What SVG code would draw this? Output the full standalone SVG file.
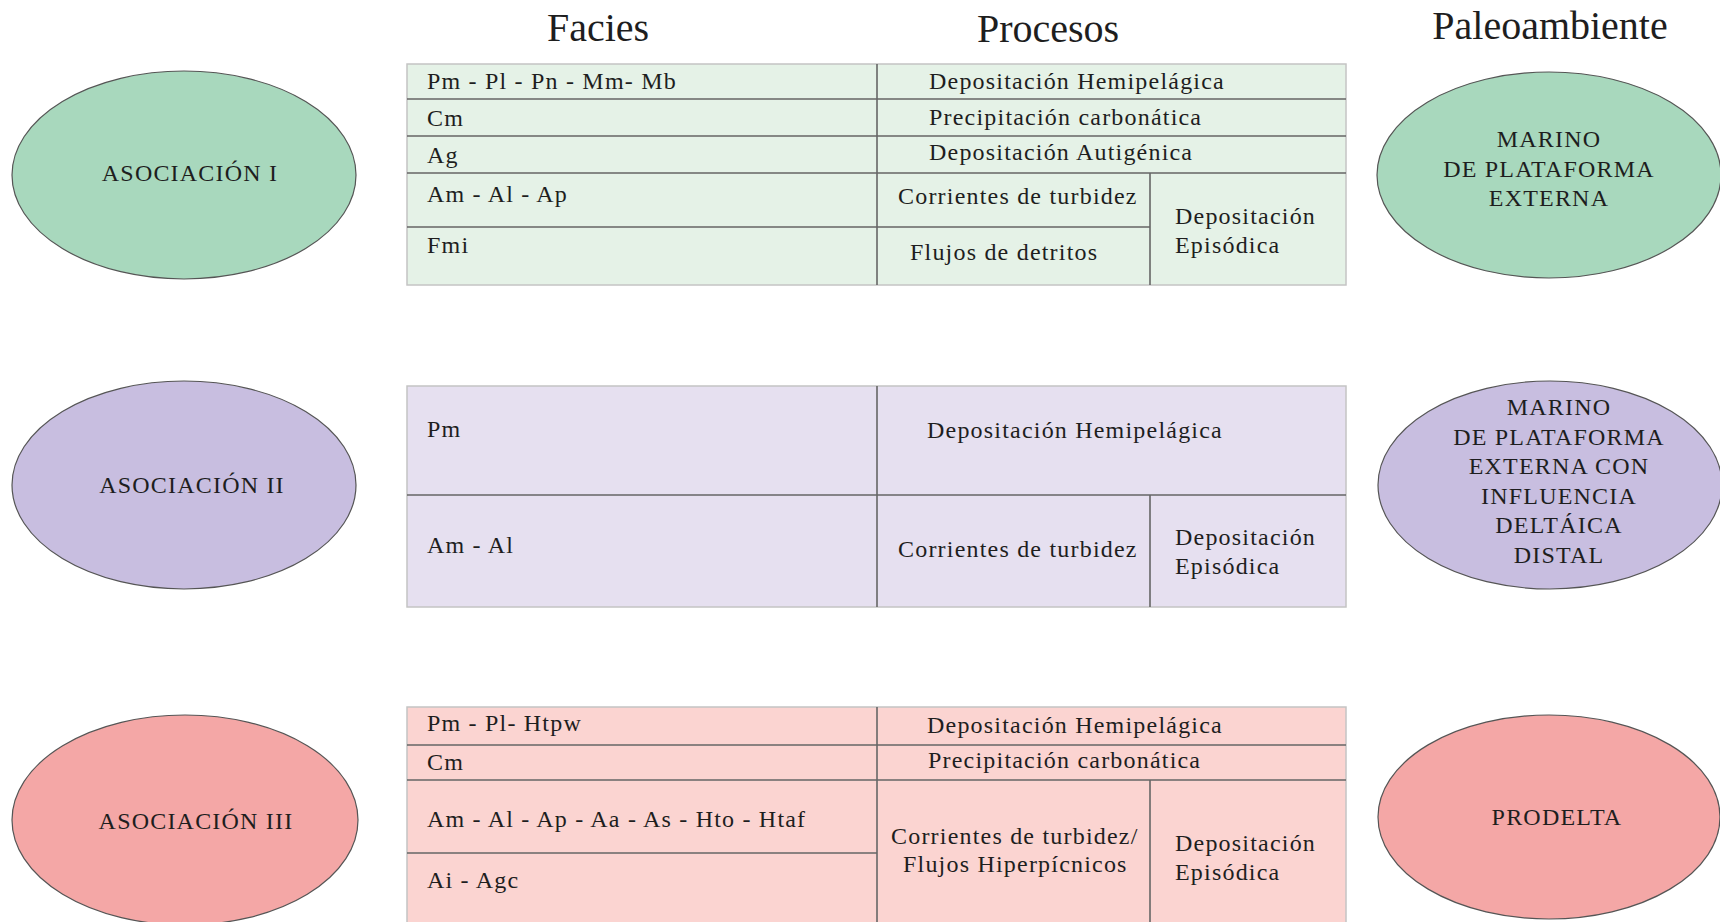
<svg xmlns="http://www.w3.org/2000/svg" width="1720" height="922" viewBox="0 0 1720 922">
<style>
text{font-family:"Liberation Serif","Times New Roman",serif;fill:#1e1e1e;}
.h{font-size:40px;text-anchor:middle;}
.t{font-size:24px;letter-spacing:1.2px;}
.c{text-anchor:middle;}
.ell{stroke:#555555;stroke-width:1.2;}
.g1{fill:#a8d8bd;}
.g2{fill:#c8bee0;}
.g3{fill:#f4a7a6;}
.tb{stroke:#c4c4c4;stroke-width:1.5;}
.tb1{fill:#e5f2e7;}
.tb2{fill:#e6e0f0;}
.tb3{fill:#fbd4d1;}
.ln{stroke:#666666;stroke-width:1.6;fill:none;}
</style>
<rect x="0" y="0" width="1720" height="922" fill="#ffffff"/>

<g id="headers">
<text class="h" x="598" y="41">Facies</text>
<text class="h" x="1048" y="42">Procesos</text>
<text class="h" x="1550" y="39">Paleoambiente</text>
</g>

<g id="connectors"></g>

<g id="asociacion-1">
<ellipse class="ell g1" cx="184" cy="175" rx="172" ry="104"/>
<text class="t c" x="190" y="181">ASOCIACIÓN I</text>
</g>

<g id="tabla-1">
<rect class="tb tb1" x="407" y="64" width="939" height="221"/>
<path class="ln" d="M407 99H1346M407 136H1346M407 173H1346M407 227H1150M877 64V285M1150 173V285"/>
<text class="t" x="427" y="89">Pm - Pl - Pn - Mm- Mb</text>
<text class="t" x="427" y="126">Cm</text>
<text class="t" x="427" y="163">Ag</text>
<text class="t" x="427" y="202">Am - Al - Ap</text>
<text class="t" x="427" y="253">Fmi</text>
<text class="t" x="929" y="89">Depositación Hemipelágica</text>
<text class="t" x="929" y="125">Precipitación carbonática</text>
<text class="t" x="929" y="160">Depositación Autigénica</text>
<text class="t" x="898" y="204">Corrientes de turbidez</text>
<text class="t" x="910" y="260">Flujos de detritos</text>
<text class="t" x="1175" y="224">Depositación</text>
<text class="t" x="1175" y="253">Episódica</text>
</g>

<g id="paleo-1">
<ellipse class="ell g1" cx="1549" cy="175" rx="172" ry="103"/>
<text class="t c" x="1549" y="147">MARINO</text>
<text class="t c" x="1549" y="177">DE PLATAFORMA</text>
<text class="t c" x="1549" y="206">EXTERNA</text>
</g>

<g id="asociacion-2">
<ellipse class="ell g2" cx="184" cy="485" rx="172" ry="104"/>
<text class="t c" x="192" y="493">ASOCIACIÓN II</text>
</g>

<g id="tabla-2">
<rect class="tb tb2" x="407" y="386" width="939" height="221"/>
<path class="ln" d="M407 495H1346M877 386V607M1150 495V607"/>
<text class="t" x="427" y="437">Pm</text>
<text class="t" x="427" y="553">Am - Al</text>
<text class="t" x="927" y="438">Depositación Hemipelágica</text>
<text class="t" x="898" y="557">Corrientes de turbidez</text>
<text class="t" x="1175" y="545">Depositación</text>
<text class="t" x="1175" y="574">Episódica</text>
</g>

<g id="paleo-2">
<ellipse class="ell g2" cx="1550" cy="485" rx="172" ry="104"/>
<text class="t c" x="1559" y="415">MARINO</text>
<text class="t c" x="1559" y="445">DE PLATAFORMA</text>
<text class="t c" x="1559" y="474">EXTERNA CON</text>
<text class="t c" x="1559" y="504">INFLUENCIA</text>
<text class="t c" x="1559" y="533">DELTÁICA</text>
<text class="t c" x="1559" y="563">DISTAL</text>
</g>

<g id="asociacion-3">
<ellipse class="ell g3" cx="185" cy="820" rx="173" ry="105"/>
<text class="t c" x="196" y="829">ASOCIACIÓN III</text>
</g>

<g id="tabla-3">
<rect class="tb tb3" x="407" y="707" width="939" height="230"/>
<path class="ln" d="M407 745H1346M407 780H1346M407 853H877M877 707V922M1150 780V922"/>
<text class="t" x="427" y="731">Pm - Pl- Htpw</text>
<text class="t" x="427" y="770">Cm</text>
<text class="t" x="427" y="827">Am - Al - Ap - Aa - As - Hto - Htaf</text>
<text class="t" x="427" y="888">Ai - Agc</text>
<text class="t" x="927" y="733">Depositación Hemipelágica</text>
<text class="t" x="928" y="768">Precipitación carbonática</text>
<text class="t" x="891" y="844">Corrientes de turbidez/</text>
<text class="t" x="903" y="872">Flujos Hiperpícnicos</text>
<text class="t" x="1175" y="851">Depositación</text>
<text class="t" x="1175" y="880">Episódica</text>
</g>

<g id="paleo-3">
<ellipse class="ell g3" cx="1549" cy="817" rx="171" ry="102"/>
<text class="t c" x="1557" y="825">PRODELTA</text>
</g>
</svg>
